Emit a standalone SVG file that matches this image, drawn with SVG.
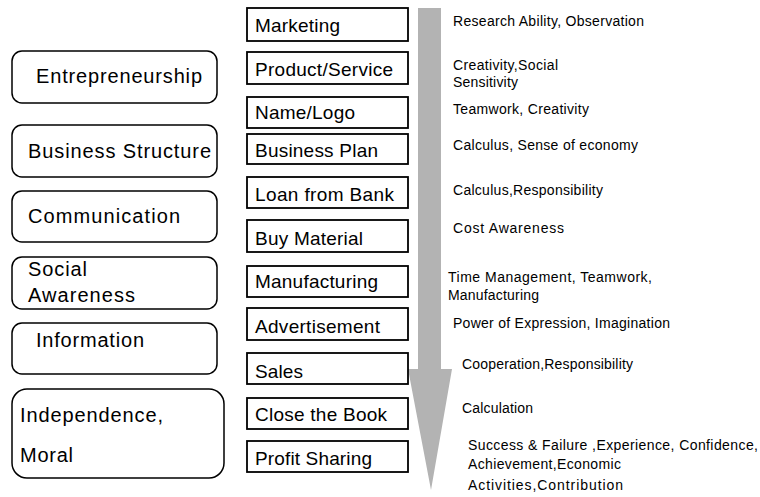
<svg xmlns="http://www.w3.org/2000/svg" width="760" height="497" viewBox="0 0 760 497">
<style>
.lb{fill:#fff;stroke:#000;stroke-width:1.5}
.mb{fill:#fff;stroke:#000;stroke-width:1.8}
.lt{font-family:"Liberation Sans",Arial,sans-serif;font-size:20px;fill:#000}
.mt{font-family:"Liberation Sans",Arial,sans-serif;font-size:19px;fill:#000}
.rt{font-family:"Liberation Sans",Arial,sans-serif;font-size:14px;fill:#000}
</style>
<rect width="760" height="497" fill="#fff"/>
<g id="connectors">
<path d="M418,8 H441 V369 H452 L431,490 L408,369 H418 Z" fill="#b3b3b3"/>
</g>
<g id="entrepreneurship"><rect class="lb" x="12" y="51" width="205" height="52" rx="10"/><text class="lt" x="36" y="83" textLength="166" lengthAdjust="spacing">Entrepreneurship</text></g>
<g id="business-structure"><rect class="lb" x="12" y="125" width="205" height="52" rx="10"/><text class="lt" x="28" y="158" textLength="183" lengthAdjust="spacing">Business Structure</text></g>
<g id="communication"><rect class="lb" x="12" y="191" width="205" height="51" rx="10"/><text class="lt" x="28" y="223" textLength="152" lengthAdjust="spacing">Communication</text></g>
<g id="social-awareness"><rect class="lb" x="12" y="257" width="205" height="52" rx="10"/><text class="lt" x="28" y="276" textLength="59" lengthAdjust="spacing">Social</text><text class="lt" x="28" y="302" textLength="107" lengthAdjust="spacing">Awareness</text></g>
<g id="information"><rect class="lb" x="12" y="323" width="205" height="51" rx="10"/><text class="lt" x="36" y="347" textLength="108" lengthAdjust="spacing">Information</text></g>
<g id="independence-moral"><rect class="lb" x="12" y="389" width="212" height="89" rx="15"/><text class="lt" x="20" y="422" textLength="143" lengthAdjust="spacing">Independence,</text><text class="lt" x="20" y="462" textLength="53" lengthAdjust="spacing">Moral</text></g>

<g id="marketing"><rect class="mb" x="247" y="8" width="161" height="33"/><text class="mt" x="255" y="32" textLength="85" lengthAdjust="spacing">Marketing</text></g>
<g id="product-service"><rect class="mb" x="247" y="52" width="161" height="32"/><text class="mt" x="255" y="76" textLength="138" lengthAdjust="spacing">Product/Service</text></g>
<g id="name-logo"><rect class="mb" x="247" y="97" width="161" height="31"/><text class="mt" x="255" y="119" textLength="100" lengthAdjust="spacing">Name/Logo</text></g>
<g id="business-plan"><rect class="mb" x="247" y="134" width="161" height="30"/><text class="mt" x="255" y="157" textLength="123" lengthAdjust="spacing">Business Plan</text></g>
<g id="loan-from-bank"><rect class="mb" x="247" y="177" width="161" height="31"/><text class="mt" x="255" y="201" textLength="139" lengthAdjust="spacing">Loan from Bank</text></g>
<g id="buy-material"><rect class="mb" x="247" y="220" width="161" height="32"/><text class="mt" x="255" y="245" textLength="108" lengthAdjust="spacing">Buy Material</text></g>
<g id="manufacturing"><rect class="mb" x="247" y="266" width="161" height="31"/><text class="mt" x="255" y="288" textLength="123" lengthAdjust="spacing">Manufacturing</text></g>
<g id="advertisement"><rect class="mb" x="247" y="308" width="161" height="32"/><text class="mt" x="255" y="333" textLength="125" lengthAdjust="spacing">Advertisement</text></g>
<g id="sales"><rect class="mb" x="247" y="353" width="161" height="31"/><text class="mt" x="255" y="378" textLength="48" lengthAdjust="spacing">Sales</text></g>
<g id="close-the-book"><rect class="mb" x="247" y="398" width="161" height="31"/><text class="mt" x="255" y="421" textLength="132" lengthAdjust="spacing">Close the Book</text></g>
<g id="profit-sharing"><rect class="mb" x="247" y="441" width="161" height="31"/><text class="mt" x="255" y="465" textLength="117" lengthAdjust="spacing">Profit Sharing</text></g>

<g id="skills">
<text class="rt" x="453" y="26" textLength="191" lengthAdjust="spacing">Research Ability, Observation</text>
<text class="rt" x="453" y="70" textLength="105" lengthAdjust="spacing">Creativity,Social</text>
<text class="rt" x="453" y="87" textLength="65" lengthAdjust="spacing">Sensitivity</text>
<text class="rt" x="453" y="114" textLength="136" lengthAdjust="spacing">Teamwork, Creativity</text>
<text class="rt" x="453" y="150" textLength="185" lengthAdjust="spacing">Calculus, Sense of economy</text>
<text class="rt" x="453" y="195" textLength="150" lengthAdjust="spacing">Calculus,Responsibility</text>
<text class="rt" x="453" y="233" textLength="111" lengthAdjust="spacing">Cost  Awareness</text>
<text class="rt" x="448" y="282" textLength="204" lengthAdjust="spacing">Time Management, Teamwork,</text>
<text class="rt" x="448" y="300" textLength="91" lengthAdjust="spacing">Manufacturing</text>
<text class="rt" x="453" y="328" textLength="217" lengthAdjust="spacing">Power of Expression, Imagination</text>
<text class="rt" x="462" y="369" textLength="171" lengthAdjust="spacing">Cooperation,Responsibility</text>
<text class="rt" x="462" y="413" textLength="71" lengthAdjust="spacing">Calculation</text>
<text class="rt" x="468" y="450" textLength="290" lengthAdjust="spacing">Success &amp; Failure ,Experience, Confidence,</text>
<text class="rt" x="468" y="469" textLength="153" lengthAdjust="spacing">Achievement,Economic</text>
<text class="rt" x="468" y="490" textLength="155" lengthAdjust="spacing">Activities,Contribution</text>
</g>
</svg>
